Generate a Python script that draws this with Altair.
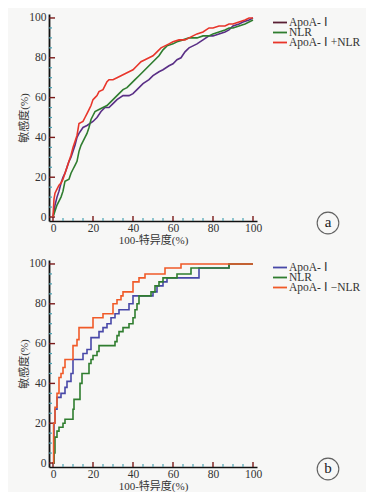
import altair as alt
import pandas as pd

# ---------------- data: panel a ----------------
a_apoa_x = [0,1,2,3,4,5,6,7,8,9,10,11,12,13,15,17,20,22,24,26,28,30,32,35,38,40,42,45,48,50,53,55,58,60,62,64,66,68,70,72,75,78,80,83,86,88,90,93,95,98,100]
a_apoa_y = [0,6,10,13,17,20,22,25,28,30,33,36,40,42,45,46,48,50,53,55,55,57,59,61,61,62,64,67,69,71,73,74,76,77,79,80,83,85,86,87,89,91,91,92,93,94,96,97,98,99,100]

a_nlr_x = [0,1,2,3,4,5,6,8,9,10,11,12,13,14,15,16,17,18,19,20,21,23,25,27,29,31,33,35,37,39,41,43,45,47,49,51,53,55,57,60,62,65,68,72,75,78,80,83,86,88,90,93,96,98,100]
a_nlr_y = [0,3,6,8,10,13,18,19,22,24,26,28,33,36,38,40,42,45,49,51,53,54,55,56,58,60,62,64,65,67,69,71,73,75,77,79,81,84,86,87,88,89,90,90,91,91,92,93,94,95,95,96,97,98,99]

a_comb_x = [0,0.5,1,2,3,4,5,6,7,8,9,10,11,12,13,15,16,17,18,19,20,21,22,23,25,26,27,28,30,32,34,36,38,40,42,44,46,48,50,52,54,56,58,60,63,66,68,70,72,75,78,80,83,86,88,90,93,96,98,100]
a_comb_y = [0,9,12,14,16,17,19,22,25,28,31,35,38,41,47,48,50,52,54,56,59,60,61,63,64,66,68,69,69,70,71,72,73,74,76,78,79,80,81,83,85,86,87,88,89,89,90,91,92,93,95,95,96,96,97,97,98,99,100,100]

a_names = ["ApoA- Ⅰ", "NLR", "ApoA- Ⅰ +NLR"]
a_colors = ["#5a2f86", "#2f7d2f", "#e8352a"]
a_legend_colors = ["#5a1f34", "#2f7d2f", "#e8352a"]

# ---------------- data: panel b (step curves) ----------------
b_apoa_x = [0,0.5,1,2,4,6,7,9,10,15,17,19,23,25,27,29,31,33,38,40,50,52,55,57,73,88,100]
b_apoa_y = [0,20,27,33,35,38,41,45,52,55,57,63,66,68,70,73,75,77,80,84,86,89,91,93,98,100,100]

b_nlr_x = [0,0.5,1,2,3,5,6,10,10.5,13.5,14.5,18,19,20,22,23,31,32,33,35,38,40,41,42,43,49,51,53,55,62,69,88,100]
b_nlr_y = [0,5,13,16,18,20,22,27,32,40,45,50,52,54,56,59,61,64,66,68,70,73,77,80,84,86,89,91,93,95,98,100,100]

b_comb_x = [0,0.3,1,2,3,4,5,6,10,12,13,20,25,30,32,34,35,40,43,46,56,64,100]
b_comb_y = [0,20,28,35,43,45,48,52,59,62,68,73,75,80,82,84,86,91,93,95,98,100,100]

b_names = ["ApoA- Ⅰ", "NLR", "ApoA- Ⅰ −NLR"]
b_colors = ["#4848a8", "#2f7d2f", "#f05a28"]
b_legend_colors = ["#4848a8", "#2f7d2f", "#f05a28"]

major_ticks = [0, 20, 40, 60, 80, 100]
minor_ticks = [5,10,15,25,30,35,45,50,55,65,70,75,85,90,95]

x_title = "100-特异度(%)"
y_title = "敏感度(%)"
letters = ["a", "b"]

SERIF = "Liberation Serif, Times New Roman, serif"
CJK = "Liberation Serif, Times New Roman, Noto Sans CJK SC, serif"
W, H = 208, 207


def make_df(names, xs, ys):
    rows = []
    for i, (n, xx, yy) in enumerate(zip(names, xs, ys)):
        for a, b in zip(xx, yy):
            rows.append({"series": n, "x": a, "y": b, "k": i})
    return pd.DataFrame(rows)


X_AXIS = alt.Axis(values=major_ticks, ticks=False, domainColor="#111",
                  domainWidth=1.6, labelFont=SERIF, labelFontSize=11.5,
                  labelColor="#333", labelPadding=1, titleFont=CJK,
                  titleFontSize=11, titleFontWeight="normal",
                  titleColor="#333", titlePadding=1, grid=False)
Y_AXIS = alt.Axis(values=major_ticks, ticks=False, domainColor="#111",
                  domainWidth=1.8, labelFont=SERIF, labelFontSize=11.5,
                  labelColor="#333", labelPadding=3, titleFont=CJK,
                  titleFontSize=11, titleFontWeight="normal",
                  titleColor="#333", titlePadding=-1, grid=False)


def panel(df, names, colors, leg_colors, interp, letter, leg_y):
    xs = alt.Scale(domain=[-2, 102], nice=False, zero=False)
    ys = alt.Scale(domain=[-2, 102], nice=False, zero=False)
    lines = alt.Chart(df).mark_line(interpolate=interp, strokeWidth=1.6).encode(
        x=alt.X("x:Q", scale=xs, title=x_title, axis=X_AXIS),
        y=alt.Y("y:Q", scale=ys, title=y_title, axis=Y_AXIS),
        color=alt.Color("series:N", scale=alt.Scale(domain=names, range=colors),
                        legend=None),
        order=alt.Order("x:Q"),
    )
    tdf = pd.DataFrame({"x": major_ticks, "y": major_ticks})
    mdf = pd.DataFrame({"x": minor_ticks, "y": minor_ticks})
    ytick = alt.Chart(tdf).mark_rule(color="#7a1a1a", strokeWidth=1.4).encode(
        y=alt.Y("y:Q", scale=ys, title=y_title, axis=Y_AXIS), x=alt.value(0), x2=alt.value(6))
    xtick = alt.Chart(tdf).mark_rule(color="#7a1a1a", strokeWidth=1.4).encode(
        x=alt.X("x:Q", scale=xs, title=x_title, axis=X_AXIS), y=alt.value(H), y2=alt.value(H - 5))
    ymin = alt.Chart(mdf).mark_rule(color="#4aa3b5", strokeWidth=1.2).encode(
        y=alt.Y("y:Q", scale=ys, title=y_title, axis=Y_AXIS), x=alt.value(0), x2=alt.value(3))
    xmin = alt.Chart(mdf).mark_rule(color="#4aa3b5", strokeWidth=1.2).encode(
        x=alt.X("x:Q", scale=xs, title=x_title, axis=X_AXIS), y=alt.value(H), y2=alt.value(H - 3))
    ldf = pd.DataFrame({"t": [letter]})
    circ = alt.Chart(ldf).mark_point(shape="circle", size=470, color="#222",
                                     strokeWidth=1.1, filled=False).encode(
        x=alt.value(279), y=alt.value(209))
    txt = alt.Chart(ldf).mark_text(font=SERIF, fontSize=15, color="#222",
                                   baseline="middle", align="center", dy=-1).encode(
        x=alt.value(279), y=alt.value(209), text="t:N")
    # hand-built compact legend (three rows, ~10 px apart)
    leg_layers = []
    for i, (n, c) in enumerate(zip(names, leg_colors)):
        yy = leg_y + i * 10
        one = pd.DataFrame({"t": [n]})
        leg_layers.append(alt.Chart(one).mark_rule(color=c, strokeWidth=1.8).encode(
            x=alt.value(224), x2=alt.value(238), y=alt.value(yy)))
        leg_layers.append(alt.Chart(one).mark_text(
            font=SERIF, fontSize=11.5, color="#333", align="left",
            baseline="middle").encode(x=alt.value(240), y=alt.value(yy), text="t:N"))
    return alt.layer(ymin, xmin, ytick, xtick, lines, circ, txt, *leg_layers).properties(
        width=W, height=H)


dfa = make_df(a_names, [a_apoa_x, a_nlr_x, a_comb_x], [a_apoa_y, a_nlr_y, a_comb_y])
dfb = make_df(b_names, [b_apoa_x, b_nlr_x, b_comb_x], [b_apoa_y, b_nlr_y, b_comb_y])

pa = panel(dfa, a_names, a_colors, a_legend_colors, "linear", letters[0], 8.5)
pb = panel(dfb, b_names, b_colors, b_legend_colors, "step-after", letters[1], 7.5)

chart = alt.vconcat(pa, pb, spacing=11).resolve_scale(color="independent").properties(
    background="#f7f7f6",
    padding={"left": 10, "top": 3, "right": 5, "bottom": 0},
).configure_view(stroke=None)

chart.save("out.html", embed_options={"renderer": "svg", "actions": False})
